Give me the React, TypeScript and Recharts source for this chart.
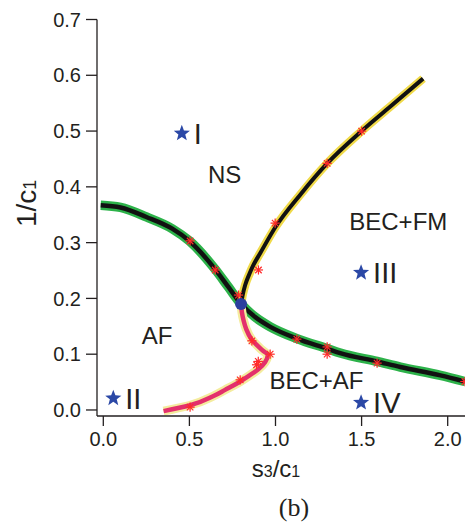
import { ComposedChart, Line, Scatter, XAxis, YAxis } from 'recharts'

// phase boundaries (x = s3/c1, y = 1/c1)
const nsBoundary = [
  { x: -0.015, y: 0.367 }, { x: 0.1, y: 0.363 }, { x: 0.25, y: 0.346 }, { x: 0.4, y: 0.325 },
  { x: 0.5, y: 0.303 }, { x: 0.65, y: 0.252 }, { x: 0.725, y: 0.221 }, { x: 0.8, y: 0.19 },
  { x: 0.88, y: 0.167 }, { x: 0.97, y: 0.149 }, { x: 1.124, y: 0.128 }, { x: 1.3, y: 0.11 },
  { x: 1.376, y: 0.102 }, { x: 1.59, y: 0.087 }, { x: 1.725, y: 0.077 }, { x: 1.958, y: 0.062 },
  { x: 2.1, y: 0.051 },
]
const fmBoundary = [
  { x: 0.8, y: 0.19 }, { x: 0.81, y: 0.207 }, { x: 0.824, y: 0.224 }, { x: 0.85, y: 0.245 },
  { x: 0.872, y: 0.26 }, { x: 0.911, y: 0.281 }, { x: 1.0, y: 0.328 }, { x: 1.144, y: 0.386 },
  { x: 1.3, y: 0.442 }, { x: 1.5, y: 0.5 }, { x: 1.667, y: 0.544 }, { x: 1.857, y: 0.594 },
]
const afBoundary = [
  { x: 0.8, y: 0.19 }, { x: 0.805, y: 0.175 }, { x: 0.815, y: 0.16 }, { x: 0.83, y: 0.145 },
  { x: 0.86, y: 0.127 }, { x: 0.92, y: 0.108 }, { x: 0.955, y: 0.098 }, { x: 0.94, y: 0.086 },
  { x: 0.9, y: 0.073 }, { x: 0.845, y: 0.061 }, { x: 0.795, y: 0.051 }, { x: 0.707, y: 0.036 },
  { x: 0.64, y: 0.025 }, { x: 0.5, y: 0.008 }, { x: 0.35, y: -0.002 },
]
const calcPoints = [
  { x: 0.504, y: 0.303 }, { x: 0.65, y: 0.251 }, { x: 1.124, y: 0.127 }, { x: 1.3, y: 0.113 },
  { x: 1.3, y: 0.1 }, { x: 1.59, y: 0.084 }, { x: 2.1, y: 0.051 },
  { x: 0.785, y: 0.206 }, { x: 0.901, y: 0.251 }, { x: 0.998, y: 0.335 }, { x: 1.3, y: 0.442 },
  { x: 1.5, y: 0.5 },
  { x: 0.863, y: 0.124 }, { x: 0.969, y: 0.1 }, { x: 0.9, y: 0.087 }, { x: 0.89, y: 0.081 },
  { x: 0.795, y: 0.054 }, { x: 0.504, y: 0.005 },
]
const starPoints = [
  { x: 0.456, y: 0.496, name: 'I' },
  { x: 0.058, y: 0.021, name: 'II' },
  { x: 1.497, y: 0.246, name: 'III' },
  { x: 1.497, y: 0.013, name: 'IV' },
]
const junction = [{ x: 0.8, y: 0.19 }]
const regionLabels = [
  { x: 0.705, y: 0.407, text: 'NS' },
  { x: 1.713, y: 0.323, text: 'BEC+FM' },
  { x: 0.312, y: 0.118, text: 'AF' },
  { x: 1.238, y: 0.037, text: 'BEC+AF' },
]
const xTicks = [0, 0.5, 1, 1.5, 2]
const yTicks = [0, 0.1, 0.2, 0.3, 0.4, 0.5, 0.6, 0.7]

const font = '"Liberation Sans", Arial, sans-serif'
const ink = '#231f20'

function Asterisk({ cx, cy }: any) {
  const r = 4.6
  const d = r * 0.707
  return (
    <g stroke="#ff2a2a" strokeWidth={1.2}>
      <line x1={cx - r} y1={cy} x2={cx + r} y2={cy} />
      <line x1={cx} y1={cy - r} x2={cx} y2={cy + r} />
      <line x1={cx - d} y1={cy - d} x2={cx + d} y2={cy + d} />
      <line x1={cx - d} y1={cy + d} x2={cx + d} y2={cy - d} />
    </g>
  )
}

function Star({ cx, cy, payload }: any) {
  const pts: string[] = []
  for (let i = 0; i < 10; i++) {
    const r = i % 2 === 0 ? 8.5 : 3.6
    const a = -Math.PI / 2 + (i * Math.PI) / 5
    pts.push(`${cx + r * Math.cos(a)},${cy + r * Math.sin(a)}`)
  }
  return (
    <g>
      <polygon points={pts.join(' ')} fill="#2b48a6" />
      <text x={cx + 12} y={cy + 10.5} fontSize={29} fontFamily={font} fill={ink}>
        {payload.name}
      </text>
    </g>
  )
}

function RegionText({ cx, cy, payload }: any) {
  return (
    <text x={cx} y={cy} textAnchor="middle" fontSize={24} fontFamily={font} fill={ink}>
      {payload.text}
    </text>
  )
}

function Dot({ cx, cy }: any) {
  return <circle cx={cx} cy={cy} r={6} fill="#2b3f9e" />
}

const tick = { fontSize: 20, fontFamily: font, fill: ink }

export default function App() {
  return (
    <div style={{ position: 'absolute', left: 0, top: 0, width: 471, height: 529, background: '#fff' }}>
      <ComposedChart width={471} height={529} margin={{ top: 19.5, right: 6, left: 37, bottom: 83 }}>
        <XAxis
          type="number"
          dataKey="x"
          domain={[-0.0366, 2.1005]}
          ticks={xTicks}
          tickFormatter={(v: number) => v.toFixed(1)}
          tick={tick}
          tickSize={10}
          tickMargin={6}
          height={30}
          stroke={ink}
          strokeWidth={1.3}
          allowDataOverflow
        />
        <YAxis
          type="number"
          dataKey="y"
          domain={[-0.0108, 0.7]}
          ticks={yTicks}
          tickFormatter={(v: number) => v.toFixed(1)}
          tick={tick}
          tickSize={11}
          tickMargin={5}
          width={60}
          stroke={ink}
          strokeWidth={1.3}
          allowDataOverflow
        />
        <Line data={nsBoundary} dataKey="y" type="monotone" stroke="#2db24a" strokeWidth={9.5} dot={false} activeDot={false} isAnimationActive={false} />
        <Line data={nsBoundary} dataKey="y" type="monotone" stroke="#111" strokeWidth={4.5} dot={false} activeDot={false} isAnimationActive={false} />
        <Line data={fmBoundary} dataKey="y" type="monotone" stroke="#f0da4a" strokeWidth={8.5} dot={false} activeDot={false} isAnimationActive={false} />
        <Line data={fmBoundary} dataKey="y" type="monotone" stroke="#111" strokeWidth={4} dot={false} activeDot={false} isAnimationActive={false} />
        <Line data={afBoundary} dataKey="y" type="monotoneY" stroke="#f4ec9e" strokeWidth={9} dot={false} activeDot={false} isAnimationActive={false} />
        <Line data={afBoundary} dataKey="y" type="monotoneY" stroke="#e3306c" strokeWidth={4.5} dot={false} activeDot={false} isAnimationActive={false} />
        <Scatter data={calcPoints} shape={Asterisk} isAnimationActive={false} />
        <Scatter data={junction} shape={Dot} isAnimationActive={false} />
        <Scatter data={starPoints} shape={Star} isAnimationActive={false} />
        <Scatter data={regionLabels} shape={RegionText} isAnimationActive={false} />
      </ComposedChart>
      <svg width={471} height={529} style={{ position: 'absolute', left: 0, top: 0, pointerEvents: 'none' }}>
        <text x={276} y={477} textAnchor="middle" fontSize={24} fontFamily={font} fill={ink}>
          s<tspan fontSize={16}>3</tspan>/c<tspan fontSize={16}>1</tspan>
        </text>
        <text transform="translate(36,227) rotate(-90)" fontSize={28} fontFamily={font} fill={ink}>
          1/c<tspan fontSize={18}>1</tspan>
        </text>
        <text x={294} y={516} textAnchor="middle" fontSize={26} fontFamily='"Liberation Serif", "DejaVu Serif", serif' fill={ink}>
          (b)
        </text>
      </svg>
    </div>
  )
}
